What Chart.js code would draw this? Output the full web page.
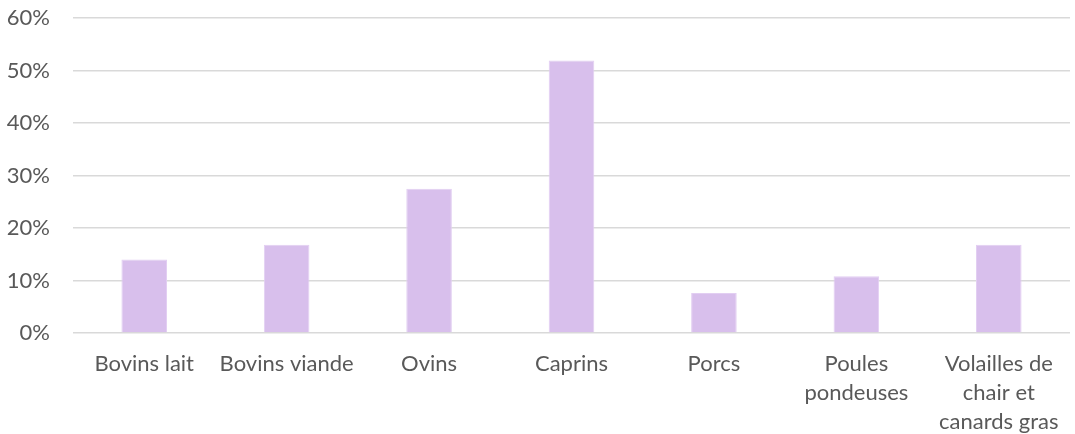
<!DOCTYPE html>
<html>
<head>
<meta charset="utf-8">
<script src="https://cdn.jsdelivr.net/npm/chart.js@4/dist/chart.umd.min.js"></script>
<style>
    html, body { margin: 0; padding: 0; background: #fff; }
    #wrap { width: 1075px; height: 434px; }
</style>
</head>
<body>
<div id="wrap"><canvas id="shareChart"></canvas></div>
<script>
const categories = ['Bovins lait', 'Bovins viande', 'Ovins', 'Caprins', 'Porcs',
    ['Poules', 'pondeuses'], ['Volailles de', 'chair et', 'canards gras']];
const shares = [14.0, 16.8, 27.5, 51.9, 7.6, 10.8, 16.8];
const yTicks = [0, 10, 20, 30, 40, 50, 60];

const textColor = '#595959';
const font = { family: 'Lato', size: 22, lineHeight: 1.32 };

let shareChart = new Chart('shareChart', {
    type: 'bar',
    data: {
        labels: categories,
        datasets: [{
            label: 'Part',
            data: shares,
            backgroundColor: 'rgb(216,191,236)',
            borderColor: 'rgb(226,206,242)',
            borderWidth: 1,
            categoryPercentage: 1,
            barPercentage: 0.32
        }]
    },
    options: {
        responsive: true,
        maintainAspectRatio: false,
        animation: false,
        layout: {
            padding: { top: 18, right: 5, left: 0, bottom: 0 }
        },
        plugins: {
            legend: { display: false },
            tooltip: { enabled: false }
        },
        scales: {
            x: {
                grid: { display: false, drawTicks: false },
                border: { display: false },
                ticks: {
                    color: textColor,
                    font: font,
                    padding: 16,
                    maxRotation: 0,
                    autoSkip: false
                },
                afterFit: (scale) => {
                    scale.height = 101;
                    scale.paddingLeft = 0;
                    scale.paddingRight = 0;
                }
            },
            y: {
                min: 0,
                max: 60,
                afterBuildTicks: (scale) => {
                    scale.ticks = yTicks.map(v => ({ value: v }));
                },
                // gridlines in the original are a soft ~1.5px grey
                grid: { color: '#d9d9d9', lineWidth: 1.5, drawTicks: false },
                border: { display: false },
                ticks: {
                    color: textColor,
                    font: font,
                    padding: 23,
                    callback: (v) => v + '%'
                },
                afterFit: (scale) => {
                    scale.width = 73;
                    scale.paddingTop = 0;
                    scale.paddingBottom = 0;
                }
            }
        }
    }
});
</script>
</body>
</html>
